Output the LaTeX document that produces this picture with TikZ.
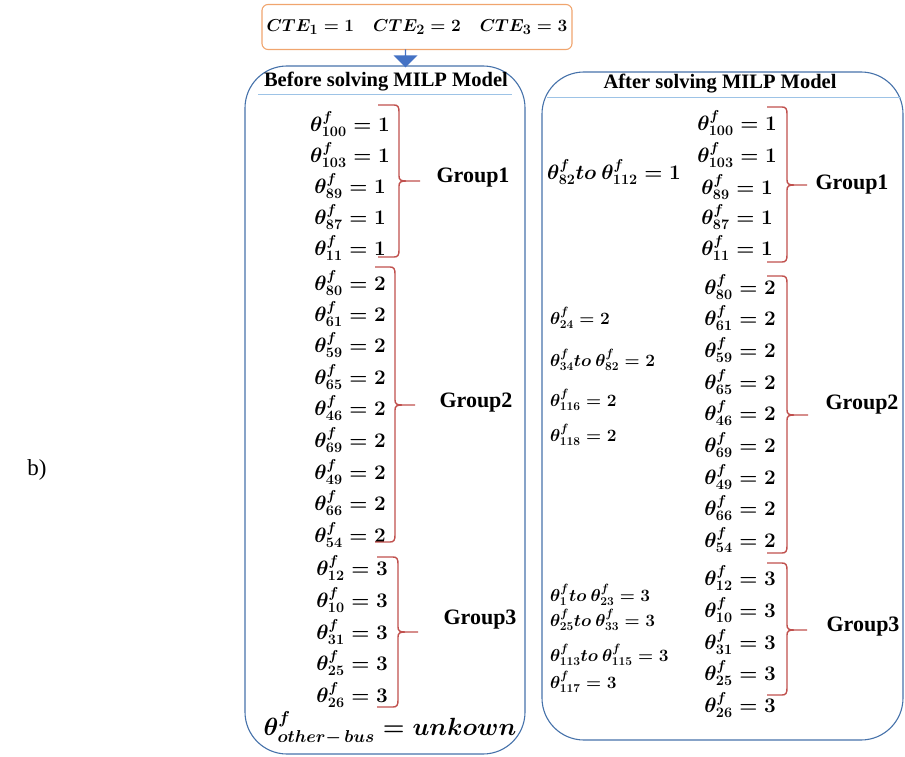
\documentclass[tikz,border=0pt]{standalone}
\usepackage{amsmath}
\usepackage{fontspec}
\setmainfont{Liberation Serif}
\usetikzlibrary{shapes.arrows}
\definecolor{panelblue}{RGB}{70,114,170}
\definecolor{bracered}{RGB}{192,80,77}
\definecolor{cteorange}{RGB}{240,165,110}
\definecolor{ulineblue}{RGB}{157,195,230}
\definecolor{arrowblue}{RGB}{68,114,196}
\newcommand{\tf}[2]{{\boldmath$\theta^{f}_{#1}=#2$}}
\newcommand{\mybrace}[6]{%
\draw[brc] (#6,#2) -- ({#1-5},#2) .. controls ({#1-1},#2) and (#1,{#2+2}) .. (#1,{#2+7}) -- (#1,{#4-5}) .. controls (#1,{#4-1}) and ({#1+2},#4) .. ({#1+7},#4) -- (#5,#4);
\draw[brc] ({#1+7},#4) .. controls ({#1+2},#4) and (#1,{#4+1}) .. (#1,{#4+5}) -- (#1,{#3-7}) .. controls (#1,{#3-2}) and ({#1-1},#3) .. ({#1-5},#3) -- (#6,#3);}
\begin{document}
\begin{tikzpicture}[x=1pt,y=-1pt,
  row/.style={font=\fontsize{20}{22}\selectfont, inner sep=0pt},
  side/.style={font=\fontsize{17}{19}\selectfont, inner sep=0pt, anchor=west},
  grp/.style={font=\fontsize{22}{24}\selectfont\bfseries, inner sep=0pt},
  ttl/.style={font=\fontsize{20.5}{23}\selectfont\bfseries, inner sep=0pt},
  brc/.style={draw=bracered, line width=1.4pt},
  panel/.style={draw=panelblue, line width=1.1pt, rounded corners=42pt},
  uline/.style={draw=ulineblue, line width=1pt}]
\useasboundingbox (0,0) rectangle (905,757);
% top box and arrow
\node[draw=cteorange, line width=1.1pt, rounded corners=6pt, minimum width=310pt, minimum height=45pt, inner sep=0pt,
  font=\fontsize{19}{22}\selectfont] (cte) at (417,27)
  {{\boldmath$CTE_1=1\quad CTE_2=2\quad CTE_3=3$}};
% panels
\node[panel, minimum width=280pt, minimum height=688pt] (lp) at (385,410) {};
\node[panel, minimum width=361pt, minimum height=668pt] (rp) at (722.5,406) {};
\node[single arrow, fill=arrowblue, draw=none, rotate=-90, minimum height=18pt, minimum width=24pt,
  single arrow head extend=4pt, inner sep=0pt] (arr) at (405.5,58) {};
% titles
\node[ttl] (lt) at (386,82) {Before solving MILP Model};
\node[ttl] (rt) at (720,84) {After solving MILP Model};
\draw[uline] (258,95) -- (512,95);
\draw[uline] (547,98) -- (901,98);
% b)
\node[font=\fontsize{23}{25}\selectfont, inner sep=0pt] (blab) at (37,470) {b)};
% left group 1
\foreach \s/\v/\y [count=\i] in {100/1/124,103/1/155,89/1/186,87/1/217,11/1/248}
  \node[row] (la\i) at (350,\y) {\tf{\s}{\v}};
\mybrace{399}{105}{257}{181}{420}{378}
\node[grp] (g1l) at (473,178) {Group1};
% left group 2
\foreach \s/\v/\y [count=\i] in {80/2/283,61/2/314,59/2/345,65/2/377,46/2/408,69/2/440,49/2/472,66/2/503,54/2/535}
  \node[row] (lb\i) at (350,\y) {\tf{\s}{\v}};
\mybrace{395}{267}{542}{405}{415}{375}
\node[grp] (g2l) at (476,403) {Group2};
% left group 3
\foreach \s/\v/\y [count=\i] in {12/3/568,10/3/600,31/3/632,25/3/663,26/3/695}
  \node[row] (lc\i) at (352,\y) {\tf{\s}{\v}};
\mybrace{398}{557}{707}{632}{418}{377}
\node[grp] (g3l) at (480,620) {Group3};
\node[font=\fontsize{27}{30}\selectfont, inner sep=0pt] (other) at (390,728)
  {{\boldmath$\theta^{f}_{other-\,bus}=unkown$}};
% right group 1
\foreach \s/\v/\y [count=\i] in {100/1/123,103/1/155,89/1/187,87/1/217,11/1/248}
  \node[row] (ra\i) at (737,\y) {\tf{\s}{\v}};
\mybrace{787}{107}{262}{185}{807}{767}
\node[grp] (g1r) at (852,185) {Group1};
\node[row, anchor=west] (s1) at (547,172) {{\boldmath$\theta^{f}_{82}to\ \theta^{f}_{112}=1$}};
% right group 2
\foreach \s/\v/\y [count=\i] in {80/2/287,61/2/318,59/2/350,65/2/382,46/2/413,69/2/445,49/2/477,66/2/508,54/2/540}
  \node[row] (rb\i) at (740,\y) {\tf{\s}{\v}};
\mybrace{787}{276}{553}{415}{808}{767}
\node[grp] (g2r) at (862,405) {Group2};
\node[side] (s2a) at (550,318) {\tf{24}{2}};
\node[side] (s2b) at (550,360) {{\boldmath$\theta^{f}_{34}to\ \theta^{f}_{82}=2$}};
\node[side] (s2c) at (550,400) {\tf{116}{2}};
\node[side] (s2d) at (550,435) {\tf{118}{2}};
% right group 3
\foreach \s/\v/\y [count=\i] in {12/3/578,10/3/610,31/3/642,25/3/673,26/3/705}
  \node[row] (rc\i) at (740,\y) {\tf{\s}{\v}};
\mybrace{787}{563}{695}{630}{807}{767}
\node[grp] (g3r) at (863,627) {Group3};
\node[side] (s3a) at (550,595) {{\boldmath$\theta^{f}_{1}to\ \theta^{f}_{23}=3$}};
\node[side] (s3b) at (550,620) {{\boldmath$\theta^{f}_{25}to\ \theta^{f}_{33}=3$}};
\node[side] (s3c) at (550,655) {{\boldmath$\theta^{f}_{113}to\ \theta^{f}_{115}=3$}};
\node[side] (s3d) at (550,682) {\tf{117}{3}};
\end{tikzpicture}
\end{document}
